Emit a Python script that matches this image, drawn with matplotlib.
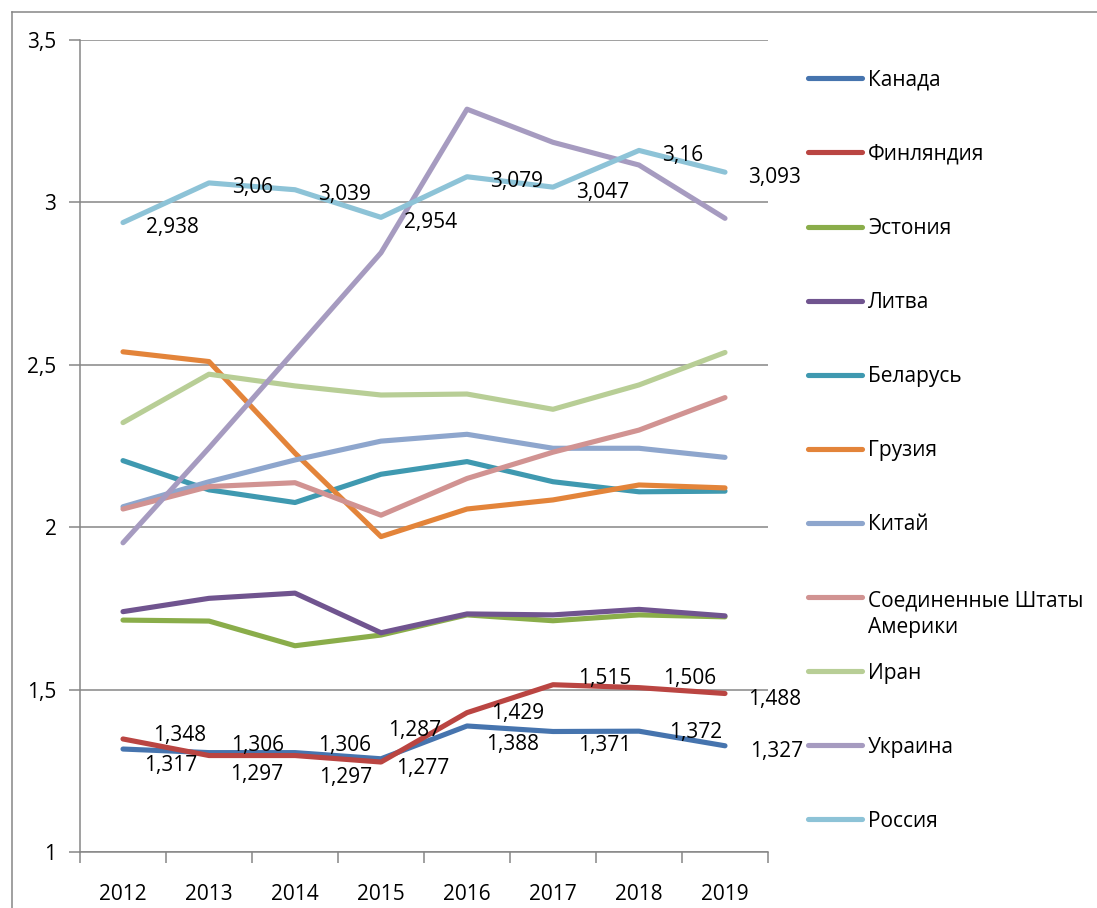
import matplotlib
matplotlib.use('Agg')
import matplotlib.pyplot as plt
from matplotlib.lines import Line2D
from matplotlib.ticker import FixedLocator, FuncFormatter
import matplotlib.transforms as mtransforms

plt.rcParams['font.family'] = ['Open Sans', 'DejaVu Sans']

years = ['2012', '2013', '2014', '2015', '2016', '2017', '2018', '2019']

canada = [1.317, 1.306, 1.306, 1.287, 1.388, 1.371, 1.372, 1.327]
finland = [1.348, 1.297, 1.297, 1.277, 1.429, 1.515, 1.506, 1.488]
estonia = [1.714, 1.711, 1.635, 1.668, 1.730, 1.712, 1.730, 1.724]
lithuania = [1.740, 1.781, 1.797, 1.675, 1.733, 1.730, 1.747, 1.727]
belarus = [2.205, 2.115, 2.076, 2.163, 2.202, 2.140, 2.109, 2.111]
georgia = [2.540, 2.510, 2.228, 1.971, 2.056, 2.084, 2.130, 2.121]
china = [2.063, 2.140, 2.207, 2.265, 2.286, 2.243, 2.243, 2.215]
usa = [2.056, 2.125, 2.137, 2.037, 2.150, 2.231, 2.299, 2.399]
iran = [2.322, 2.471, 2.435, 2.407, 2.410, 2.363, 2.438, 2.538]
ukraine = [1.952, 2.244, 2.544, 2.845, 3.287, 3.185, 3.115, 2.951]
russia = [2.938, 3.060, 3.039, 2.954, 3.079, 3.047, 3.160, 3.093]

names = ['Канада', 'Финляндия', 'Эстония', 'Литва', 'Беларусь', 'Грузия',
         'Китай', 'Соединенные Штаты\nАмерики', 'Иран', 'Украина', 'Россия']
series = [canada, finland, estonia, lithuania, belarus, georgia,
          china, usa, iran, ukraine, russia]
colors = ['#4674AE', '#BA4542', '#8AAD4A', '#70548F', '#3F99B0', '#E3843A',
          '#8EA6CD', '#D19392', '#B8CE96', '#A69BC0', '#8DC3D7']

# where the value labels sit relative to their point (pixels: left edge x, centre y up)
label_dx = {
    'canada': [21, 22, 23.5, 7, 19, 24.7, 30.5, 25],
    'finland': [30, 21.5, 24.5, 15.5, 23.6, 24.7, 23.6, 23],
    'russia': [23] * 8,
}
label_dy = {
    'canada': [-14.5, 9, 9, 30.5, -17, -12.5, 1, -4],
    'finland': [5, -17, -19.5, -4.7, 1, 8, 11, -4.5],
    'russia': [-3] * 8,
}

FS = 15
GRAY = '#868686'
W, H = 1097, 908

fig = plt.figure(figsize=(W / 100, H / 100), dpi=100)
ax = fig.add_axes([80 / W, 1 - 852 / H, (768 - 80) / W, (852 - 40) / H])

x = list(range(len(years)))
for vals, col in zip(series, colors):
    ax.plot(x, vals, color=col, lw=3.7, solid_capstyle='round',
            solid_joinstyle='round', zorder=3)

def fmt(v):
    return f"{v:g}".replace('.', ',')

for key, vals in [('canada', canada), ('finland', finland), ('russia', russia)]:
    for i, v in enumerate(vals):
        ax.annotate(fmt(v), (i, v), xytext=(label_dx[key][i], label_dy[key][i] - 7.5),
                    textcoords='offset pixels', ha='left', va='baseline',
                    fontsize=FS, color='black', annotation_clip=False, zorder=5)

ax.set_xlim(-0.5, len(years) - 0.5)
ax.set_ylim(1, 3.5)
ax.set_xticks(x)
ax.set_xticklabels(years)
ax.xaxis.set_minor_locator(FixedLocator([i - 0.5 for i in range(len(years) + 1)]))
ax.tick_params(axis='x', which='major', length=0, pad=23, labelsize=FS)
ax.tick_params(axis='x', which='minor', length=8, width=1.1, color=GRAY, direction='out')
ax.set_yticks([1, 1.5, 2, 2.5, 3, 3.5])
ax.yaxis.set_major_formatter(FuncFormatter(lambda v, p: fmt(v)))
ax.tick_params(axis='y', length=8, width=1.1, color=GRAY, pad=9, labelsize=FS)
ax.grid(axis='y', color=GRAY, lw=1.1, zorder=1)
ax.set_axisbelow(True)
for s in ['top', 'right']:
    ax.spines[s].set_visible(False)
for s in ['left', 'bottom']:
    ax.spines[s].set_color(GRAY)
    ax.spines[s].set_linewidth(1.1)

# legend drawn by hand so entries keep Excel's even spacing
top_y = 78.3
step = 74.1
line_h = 28.7
for i, (name, col) in enumerate(zip(names, colors)):
    yf = 1 - (top_y + i * step) / H
    fig.add_artist(Line2D([808 / W, 862 / W], [yf, yf], color=col, lw=3.7,
                          solid_capstyle='round', transform=fig.transFigure))
    extra = name.count('\n') * line_h
    tr = mtransforms.offset_copy(fig.transFigure, fig=fig, x=0, y=-7.5 - extra, units='dots')
    fig.text(868 / W, yf, name, fontsize=FS, ha='left', va='baseline',
             linespacing=1.38, transform=tr)

# chart area border (top and left edges visible)
fig.add_artist(Line2D([12 / W, 1], [1 - 12 / H, 1 - 12 / H], color=GRAY, lw=1.1,
                      transform=fig.transFigure))
fig.add_artist(Line2D([12 / W, 12 / W], [0, 1 - 12 / H], color=GRAY, lw=1.1,
                      transform=fig.transFigure))

fig.savefig('out.png', dpi=100)
